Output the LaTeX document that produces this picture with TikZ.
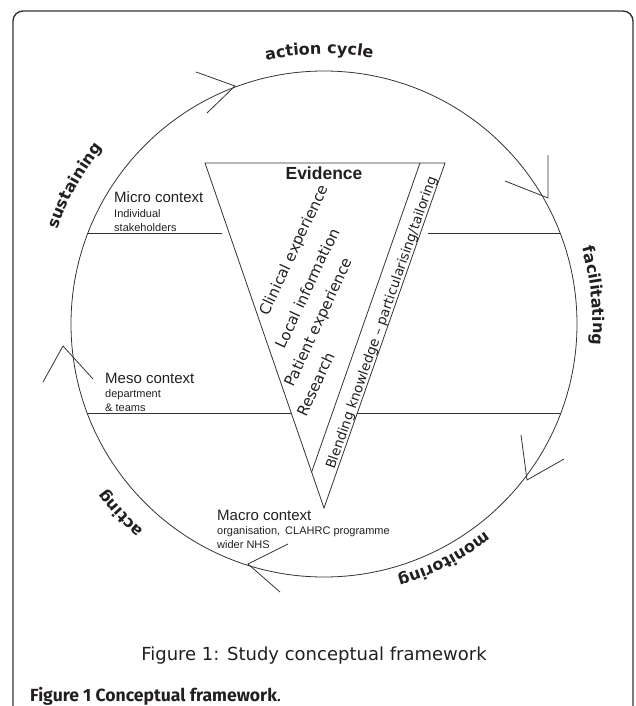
\documentclass[tikz,border=0pt]{standalone}
\usepackage{fontspec}
\setmainfont{Liberation Sans}
\newfontfamily\verdfont{DejaVu Sans}
\newfontfamily\capfont{Fira Sans}
\usetikzlibrary{decorations.text}

\definecolor{txtgray}{HTML}{231F20}
\definecolor{linegray}{HTML}{333333}
\newcommand{\cyclelbl}{\verdfont\bfseries\fontsize{16}{19}\selectfont}

\tikzset{
  ctx/.style={anchor=base west, inner sep=0pt, text=txtgray, font=\fontsize{15}{18}\selectfont},
  ctxsub/.style={anchor=base west, inner sep=0pt, text=txtgray, font=\fontsize{11}{13}\selectfont},
  src/.style={rotate=65, inner sep=0pt, text=txtgray, align=left, font=\verdfont\fontsize{15}{24}\selectfont},
  cyclelabel/.style={decorate, decoration={text along path, text align=center, text color=txtgray}},
  chev/.style={line width=0.8pt, draw=linegray},
}

\begin{document}
\begin{tikzpicture}[x=1pt, y=1pt]
      \clip (0,0) rectangle (635,-706);
      \draw[line width=1.4pt, draw=linegray, rounded corners=10pt] (13,-11) rectangle (633,-740);

      \coordinate (O) at (324,-324);
      \draw[line width=0.8pt, draw=linegray] (O) circle[radius=253];

      % labels round the cycle
      \path[cyclelabel, decoration={text={|\cyclelbl|action cycle}}] (O) ++(131:270) arc[start angle=131, end angle=51, radius=270];
      \path[cyclelabel, decoration={text={|\cyclelbl|facilitating}}] (O) ++(46:269) arc[start angle=46, end angle=-34, radius=269];
      \path[cyclelabel, decoration={text={|\cyclelbl|monitoring}}] (O) ++(-23:263) arc[start angle=-23, end angle=-103, radius=263];
      \path[cyclelabel, decoration={text={|\cyclelbl|acting}}] (O) ++(263:274) arc[start angle=263, end angle=183, radius=274];
      \path[cyclelabel, decoration={text={|\cyclelbl|sustaining}}] (O) ++(191:283) arc[start angle=191, end angle=111, radius=283];

      % open arrowheads on the cycle
      \draw[chev] (196,-72) -- (235,-86) -- (207,-113);
      \draw[chev] (548,-155) -- (548,-198) -- (505,-181);
      \draw[chev] (521,-435) -- (527,-480) -- (564,-459);
      \draw[chev] (288,-544) -- (248,-564) -- (280,-592);
      \draw[chev] (43,-382) -- (63,-346) -- (93,-379);

      % evidence triangle
      \coordinate (tl) at (205,-163);
      \coordinate (tr) at (445,-163);
      \coordinate (ap) at (324,-508);
      \coordinate (bt) at (420,-163);
      \coordinate (bb) at (311.6,-472.1);
      \draw[line width=0.8pt, draw=linegray] (tl) -- (tr) -- (ap) -- cycle;
      \draw[line width=0.8pt, draw=linegray] (bt) -- (bb);

      % context levels
      \draw[line width=0.8pt, draw=linegray] (88,-233) -- (222,-233);
      \draw[line width=0.8pt, draw=linegray] (428,-233) -- (560,-233);
      \draw[line width=0.8pt, draw=linegray] (87,-413) -- (291,-413);
      \draw[line width=0.8pt, draw=linegray] (357,-413) -- (561,-413);

      \node[ctx] (micro) at (114,-202) {Micro context};
      \node[ctxsub] (microa) at (114,-217) {Individual};
      \node[ctxsub] (microb) at (114,-231) {stakeholders};
      \node[ctx] (meso) at (105,-383) {Meso context};
      \node[ctxsub] (mesoa) at (105,-397) {department};
      \node[ctxsub] (mesob) at (105,-411) {\& teams};
      \node[ctx] (macro) at (217,-520) {Macro context};
      \node[ctxsub] (macroa) at (217,-534) {organisation,\hspace{2pt} CLAHRC programme};
      \node[ctxsub] (macrob) at (217,-548) {wider NHS};

      \node[anchor=base, inner sep=0pt, text=txtgray, font=\bfseries\fontsize{17.5}{20}\selectfont] (evid) at (324,-179) {Evidence};
      \node[src, anchor=base west] (sources) at (306,-418) {\hspace*{76pt}Clinical experience\\[5pt]\hspace*{53pt}Local information\\\hspace*{22pt}Patient experience\\Research};
      \node[anchor=base, rotate=70.7, inner sep=0pt, text=txtgray, font=\verdfont\fontsize{13.5}{16}\selectfont] (blend) at (385.5,-324) {Blending knowledge \textendash{} particularising/tailoring};

      % captions
      \node[anchor=base, inner sep=0pt, text=txtgray, font=\verdfont\fontsize{18}{21}\selectfont] (cap) at (314,-660) {Figure 1: Study conceptual framework};
      \node[anchor=base west, inner sep=0pt, text=txtgray, font=\capfont\fontsize{17.6}{20}\selectfont] (fig) at (30,-701) {\bfseries Figure 1 Conceptual framework\mdseries.};
    \end{tikzpicture}
\end{document}
